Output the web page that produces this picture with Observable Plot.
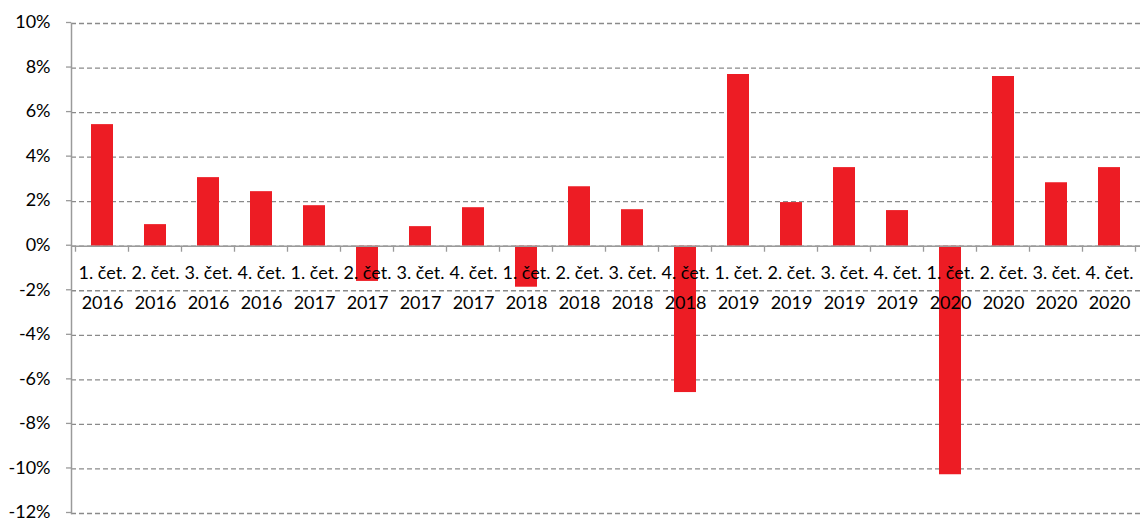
<!DOCTYPE html>
<html>
<head>
<meta charset="utf-8">
<script src="https://cdn.jsdelivr.net/npm/d3@7"></script>
<script src="https://cdn.jsdelivr.net/npm/@observablehq/plot@0.6"></script>
<style>
  html, body { margin: 0; padding: 0; background: #fff; }
  #chart svg { display: block; }
</style>
</head>
<body>
<div id="chart"></div>
<script>
const quarters = ["1. čet.", "2. čet.", "3. čet.", "4. čet."];
const years = ["2016", "2017", "2018", "2019", "2020"];
const categories = years.flatMap(y => quarters.map(q => `${q}\n${y}`));
const values = [5.46, 0.97, 3.08, 2.45,
                1.82, -1.58, 0.88, 1.73,
                -1.84, 2.67, 1.64, -6.57,
                7.71, 1.96, 3.53, 1.60,
                -10.26, 7.62, 2.85, 3.53];
const yTicks = [-12, -10, -8, -6, -4, -2, 0, 2, 4, 6, 8, 10];

const data = categories.map((c, i) => ({label: c, value: values[i]}));

const chart = Plot.plot({
  width: 1142,
  height: 519,
  marginTop: 23,
  marginBottom: 6,
  marginLeft: 71,
  marginRight: 2,
  style: {fontFamily: "Lato, 'Open Sans', sans-serif", fontSize: "18px", color: "#000", background: "#fff", overflow: "visible"},
  x: {domain: categories, paddingInner: 0.59, paddingOuter: 0.295, axis: null},
  y: {domain: [-12, 10], axis: null},
  marks: [
    Plot.gridY(yTicks, {stroke: "#8a8a8a", strokeOpacity: 1, strokeWidth: 1.3, strokeDasharray: "5,3"}),
    Plot.axisY(yTicks, {label: null, tickSize: 5, tickPadding: 16, tickFormat: d => `${d}%`, stroke: "#9a9a9a", strokeWidth: 1.3, fill: "#000", fontSize: 18, dy: -1}),
    Plot.barY(data, {x: "label", y: "value", fill: "#ED1C24"}),
    Plot.ruleY([0], {stroke: "#9a9a9a", strokeWidth: 1.5}),
    Plot.frame({anchor: "left", stroke: "#9a9a9a", strokeWidth: 1.5}),
    Plot.text(data, {x: "label", y: 0, text: "label", dy: 38.5, lineAnchor: "middle", lineHeight: 1.65, fill: "#000", fontSize: 18})
  ]
});

// boundary ticks on the zero line, placed with the plot's own scales
const xs = chart.scale("x"), ys = chart.scale("y");
const y0 = ys.apply(0);
const bounds = categories.map(c => xs.apply(c) + xs.bandwidth / 2 - xs.step / 2);
bounds.push(xs.apply(categories[categories.length - 1]) + xs.bandwidth / 2 + xs.step / 2);
d3.select(chart).append("g")
  .attr("stroke", "#9a9a9a").attr("stroke-width", 1.3)
  .selectAll("line").data(bounds).join("line")
  .attr("x1", d => d).attr("x2", d => d)
  .attr("y1", y0).attr("y2", y0 + 6);

document.getElementById("chart").append(chart);
</script>
</body>
</html>
